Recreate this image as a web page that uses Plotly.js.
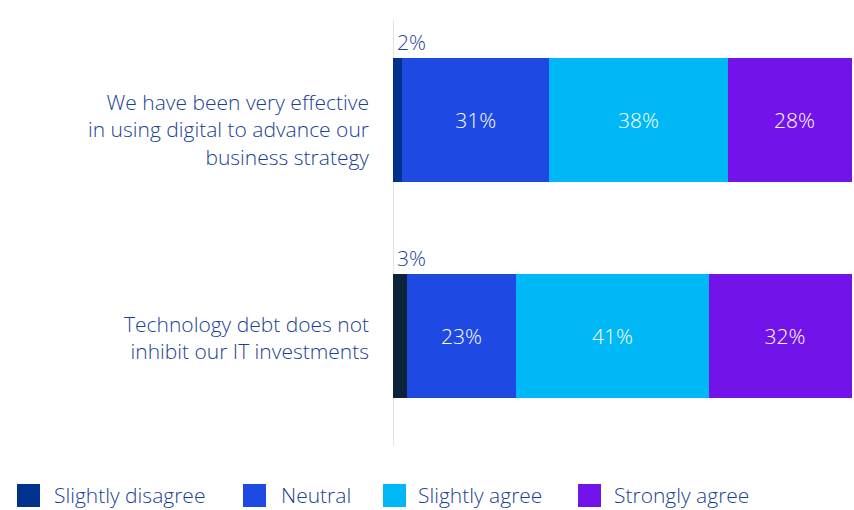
<!DOCTYPE html>
<html>
<head>
<meta charset="utf-8">
<script src="https://cdn.plot.ly/plotly-3.0.1.min.js"></script>
<style>
html,body{margin:0;padding:0;background:#fff;}
#chart{width:854px;height:510px;}
</style>
</head>
<body>
<div id="chart"></div>
<script>
// ---- data ----
const categories = [
  "We have been very effective<br>in using digital to advance our<br>business strategy",
  "Technology debt does not<br>inhibit our IT investments"
];
const seriesNames = ["Slightly disagree", "Neutral", "Slightly agree", "Strongly agree"];
const slightlyDisagree = [2, 3];
const neutral = [31, 23];
const slightlyAgree = [38, 41];
const stronglyAgree = [28, 32];
const seriesColors = ["#00338d", "#1e49e2", "#00b8f5", "#7213ea"];
const disagreeBarColors = ["#00338d", "#0c233c"];

const values = [slightlyDisagree, neutral, slightlyAgree, stronglyAgree];
const textColor = "#1b3f94";
const fontFam = "'Open Sans', Roboto, 'Liberation Sans', Arial, sans-serif";
const fs = 21;

// ---- geometry (style only) ----
const W = 854, H = 510;
const M = {l: 393, r: 2, t: 12, b: 66};
const plotW = W - M.l - M.r, plotH = H - M.t - M.b;
const px2x = px => (px - M.l) / plotW;
const px2y = py => (H - M.b - py) / plotH;
const labelShift = [-9, -1];

const traces = values.map((vals, i) => ({
  type: "bar",
  orientation: "h",
  name: seriesNames[i],
  y: categories,
  x: vals,
  marker: {color: i === 0 ? disagreeBarColors : seriesColors[i], line: {width: 0}},
  text: i === 0 ? vals.map(() => "") : vals.map(v => v + "%"),
  textposition: i === 0 ? "none" : "inside",
  insidetextanchor: "middle",
  textfont: {color: "#ffffff", size: fs, family: fontFam, weight: 300},
  hoverinfo: "none",
  showlegend: false
}));

const annotations = slightlyDisagree.map((v, j) => ({
  x: 0, y: categories[j], xref: "x", yref: "y",
  xanchor: "left", yanchor: "bottom", yshift: 62, xshift: 2,
  text: v + "%", showarrow: false,
  font: {size: fs, color: textColor, family: fontFam, weight: 300}
}));

// category labels
categories.forEach((c, j) => {
  annotations.push({
    x: 0, y: c, xref: "x", yref: "y", xanchor: "right", yanchor: "middle",
    xshift: -22, yshift: labelShift[j], align: "right",
    text: c, showarrow: false,
    font: {size: fs, color: textColor, family: fontFam, weight: 300}
  });
});

// legend drawn as shapes + annotations
const legendSwatchX = [17, 243, 383, 578];
const legendTextX = [53, 280, 417, 613];
const legendTop = 484, legendBottom = 507, legendMid = 495;
const shapes = [{
  type: "line", xref: "x", yref: "paper", x0: 0, x1: 0, y0: px2y(446), y1: px2y(20),
  line: {color: "#e4e4e4", width: 2}, layer: "below"
}];
seriesNames.forEach((name, i) => {
  shapes.push({
    type: "rect", xref: "paper", yref: "paper",
    x0: px2x(legendSwatchX[i]), x1: px2x(legendSwatchX[i] + 23),
    y0: px2y(legendBottom), y1: px2y(legendTop),
    fillcolor: seriesColors[i], line: {width: 0}
  });
  annotations.push({
    xref: "paper", yref: "paper", x: px2x(legendTextX[i]), y: px2y(legendMid),
    xanchor: "left", yanchor: "middle", text: name, showarrow: false, borderpad: 0,
    font: {size: 21, color: textColor, family: fontFam, weight: 300}
  });
});

const layout = {
  width: W, height: H,
  margin: {l: M.l, r: M.r, t: M.t, b: M.b, autoexpand: false},
  barmode: "stack",
  bargap: 0.426,
  paper_bgcolor: "#ffffff",
  plot_bgcolor: "#ffffff",
  showlegend: false,
  xaxis: {range: [0, 97.2], showgrid: false, zeroline: false, showticklabels: false, showline: false, fixedrange: true},
  yaxis: {
    autorange: "reversed", showgrid: false, zeroline: false, showline: false,
    ticks: "", showticklabels: false, fixedrange: true
  },
  shapes: shapes,
  annotations: annotations
};

Plotly.newPlot("chart", traces, layout, {displayModeBar: false, staticPlot: true});
</script>
</body>
</html>
